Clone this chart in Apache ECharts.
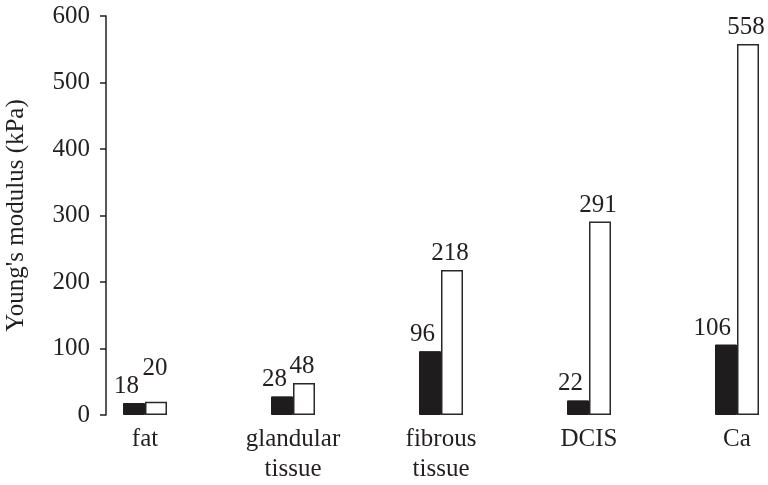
<!DOCTYPE html>
<html>
<head>
<meta charset="utf-8">
<script src="https://cdn.jsdelivr.net/npm/echarts@6/dist/echarts.min.js"></script>
<style>html,body{margin:0;padding:0;background:#fff}#c{width:768px;height:485px}</style>
</head>
<body>
<div id="c"></div>
<script>
const categories = ['fat', 'glandular\ntissue', 'fibrous\ntissue', 'DCIS', 'Ca'];
const blackValues = [18, 28, 96, 22, 106];
const whiteValues = [20, 48, 218, 291, 558];
const yTicks = { min: 0, max: 600, interval: 100 };
const yName = "Young's modulus (kPa)";

const font = 'Liberation Serif';
const ink = '#231f20';
const fs = 25;

const chart = echarts.init(document.getElementById('c'));
chart.setOption({
  animation: false,
  backgroundColor: '#fff',
  grid: { left: 71, right: -43, top: 16, bottom: 70, containLabel: false, outerBoundsMode: 'none' },
  xAxis: {
    type: 'category',
    data: categories,
    axisLine: { show: false },
    axisTick: { show: false },
    axisLabel: { color: ink, fontFamily: font, fontSize: fs, lineHeight: 30, margin: 9 }
  },
  yAxis: {
    type: 'value',
    min: yTicks.min, max: yTicks.max, interval: yTicks.interval,
    offset: -35,
    name: yName,
    nameLocation: 'middle',
    nameGap: 77,
    nameTextStyle: { color: ink, fontFamily: font, fontSize: fs },
    axisLine: { show: true, lineStyle: { color: ink, width: 1.5 } },
    axisTick: { show: true, length: 6, lineStyle: { color: ink, width: 1.5 } },
    axisLabel: { color: ink, fontFamily: font, fontSize: fs, margin: 16 },
    splitLine: { show: false }
  },
  series: [
    {
      type: 'bar',
      data: blackValues,
      barWidth: 22,
      barGap: '0%',
      itemStyle: { color: '#1e1c1d', borderColor: '#1e1c1d', borderWidth: 1 },
      label: { show: true, position: 'top', align: 'right', offset: [5, 0], distance: 4,
               color: ink, fontFamily: font, fontSize: fs }
    },
    {
      type: 'bar',
      data: whiteValues.map((v, i) => i === 0 ? { value: v, label: { offset: [-1, -17] } } : v),
      barWidth: 22,
      itemStyle: { color: '#ffffff', borderColor: '#2a2728', borderWidth: 1.5 },
      label: { show: true, position: 'top', offset: [-2, 0], distance: 4,
               color: ink, fontFamily: font, fontSize: fs }
    }
  ]
});
</script>
</body>
</html>
